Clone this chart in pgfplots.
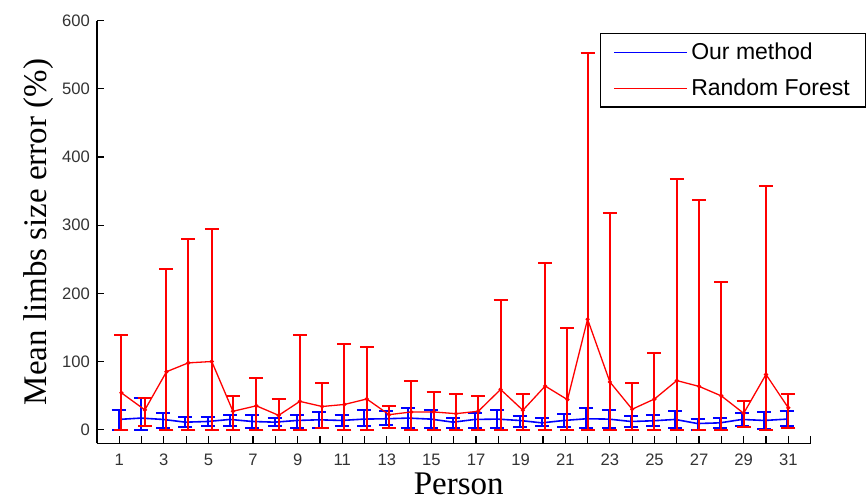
\documentclass[border=0pt]{standalone}
\usepackage{fontspec}
\setmainfont{Liberation Sans}
\newfontfamily\labelfont{Liberation Serif}
\usepackage{pgfplots}
\usepackage{pgfplotstable}
\pgfplotsset{compat=1.18}

% person, mean, top of error bar, bottom of error bar
\pgfplotstableread{
x     mean  hi    lo
0.97  15    29    0
1.97  17    47    0
2.97  15    24    2.5
3.97  11    18    4
4.97  12    18    5
5.97  15    22    6
6.97  12    21    2.5
7.97  11    17    6
8.97  13.5  22    2.5
9.97  14.5  26    2.5
10.97 13.5  21    5
11.97 15.5  29    5
12.97 16    27    7
13.97 17    32    2.5
14.97 15.5  29    2.5
15.97 11    17    2.5
16.95 15    24    2.5
17.95 15.5  29    2.5
18.95 13.5  20.5  4
19.95 10    17    5
20.95 13.5  23    4
21.95 16    32    2.5
22.95 15.5  29    2.5
23.95 12    20.5  4
24.93 13    22    5
25.93 15    27    2.5
26.93 9     16    0
27.93 10    17    2.5
28.93 15    25    5
29.93 13.5  26    1
30.93 15.5  27    5
}\ours

\pgfplotstableread{
x     mean  hi    lo
1.1   54    139   0
2.15  29    46    5
3.12  85    235   0
4.1   98    279   0
5.15  100   295   0
6.1   27    50    0
7.15  35    76    0
8.15  21    45    0
9.1   41.5  139   0
10.1  34    68    2.5
11.1  37    126   0
12.1  45    121   0
13.1  22    34    2.5
14.1  26    72    0
15.1  26    55    0
16.1  23.5  53    0
17.1  27    50    0
18.1  59    190   0
19.1  28.5  53    0
20.1  64    245   0
21.1  44    149   0
22.0  162   553   0
23.0  70    318   0
24.0  30    68    0
25.0  45    112.5 0
26.0  72    368   0
27.0  63.5  337   0
28.0  49.5  216   0
29.0  24    42.5  4
30.0  81    358   0
31.0  32    53    2.5
}\forest

\begin{document}
\begin{tikzpicture}
\begin{axis}[
  name=ax, at={(0,0)}, anchor=south west,
  scale only axis, width=356.85pt, height=211.3pt,
  xmin=0, xmax=32, ymin=-20, ymax=600,
  axis x line*=bottom, axis y line*=left,
  axis line style={line width=0.7pt, black},
  tick align=inside,
  major tick length=3.5pt, minor tick length=3.5pt,
  xtick={1,3,...,31}, minor xtick={2,4,...,32},
  ytick={0,100,...,600},
  tick style={line width=0.6pt, black},
  ticklabel style={font=\fontsize{8.3}{10}\selectfont, text=black!80},
  xticklabel style={yshift=-2pt},
  /pgf/number format/assume math mode=true,
  xlabel={Person},
  ylabel={Mean limbs size error (\%)},
  label style={font=\labelfont\fontsize{16.5}{19}\selectfont},
  xlabel style={at={(axis description cs:0.507,-0.122)}, anchor=base},
  ylabel style={at={(axis description cs:-0.070,0.5)}, anchor=base},
  legend style={at={(axis description cs:0.7049,0.9709)}, anchor=north west,
    draw=black, line width=0.7pt, inner xsep=6.5pt, inner ysep=2.5pt,
    font=\fontsize{11.5}{13.5}\selectfont, row sep=4pt,
    nodes={inner xsep=1.5pt, inner ysep=2pt}},
  legend cell align=left,
  legend image code/.code={\draw[#1] (0pt,0pt) -- (36.5pt,0pt);},
]
\addplot[blue, line width=0.8pt,
  error bars/.cd, y dir=both, y explicit,
  error bar style={line width=1pt},
  error mark options={rotate=90, mark size=3.5pt, line width=1pt}]
  table[x=x, y=mean,
    y error plus expr=\thisrow{hi}-\thisrow{mean},
    y error minus expr=\thisrow{mean}-\thisrow{lo}] {\ours};
\addlegendentry{Our method}
\addplot[red, line width=0.65pt, mark=*, mark size=0.7pt,
  error bars/.cd, y dir=both, y explicit,
  error bar style={line width=1pt},
  error mark options={rotate=90, mark size=3.5pt, line width=1pt}]
  table[x=x, y=mean,
    y error plus expr=\thisrow{hi}-\thisrow{mean},
    y error minus expr=\thisrow{mean}-\thisrow{lo}] {\forest};
\addlegendentry{Random Forest}
\end{axis}
\pgfresetboundingbox
\path[use as bounding box] ([xshift=-48.45pt,yshift=-29.85pt]ax.south west)
  rectangle ([xshift=384.55pt,yshift=221.65pt]ax.south west);
\end{tikzpicture}
\end{document}
